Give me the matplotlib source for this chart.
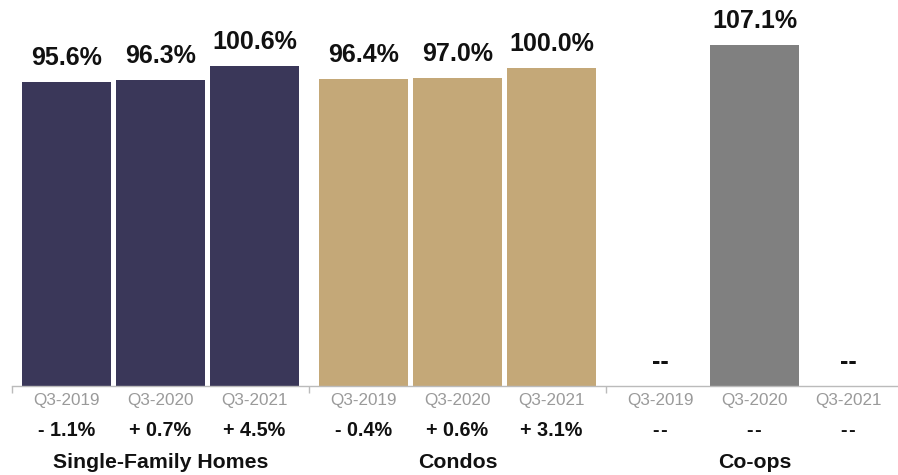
import matplotlib
matplotlib.use("Agg")
import matplotlib.pyplot as plt
from matplotlib.transforms import offset_copy

plt.rcParams['font.family'] = ['Liberation Sans', 'DejaVu Sans']

groups = ["Single-Family Homes", "Condos", "Co-ops"]
periods = ["Q3-2019", "Q3-2020", "Q3-2021"]
values = [
    [95.6, 96.3, 100.6],
    [96.4, 97.0, 100.0],
    [None, 107.1, None],
]
value_labels = [
    ["95.6%", "96.3%", "100.6%"],
    ["96.4%", "97.0%", "100.0%"],
    ["--", "107.1%", "--"],
]
changes = [
    ["- 1.1%", "+ 0.7%", "+ 4.5%"],
    ["- 0.4%", "+ 0.6%", "+ 3.1%"],
    ["-\u200a-", "-\u200a-", "-\u200a-"],
]
colors = ["#3a3759", "#c4a878", "#808080"]

W, H = 898, 475
fig = plt.figure(figsize=(W / 100, H / 100), dpi=100)
# axes spans pixel x 12..898, y 0..386
ax = fig.add_axes([12 / W, (H - 386) / H, (W - 12) / W, 386 / H])

slot = 94.0            # pixel width per bar slot
group_w = 297.0
pad = 10.0
bar_w = 89.0
px_per_unit = 3.18
ax.set_xlim(0, W - 12)
ax.set_ylim(0, 386 / px_per_unit)

for g, grp in enumerate(groups):
    start = g * group_w
    for i in range(3):
        xc = start + pad + bar_w / 2 + slot * i
        v = values[g][i]
        hv = 0 if v is None else v
        if v is not None:
            ax.bar(xc, v, width=bar_w, color=colors[g], linewidth=0)
        tr = offset_copy(ax.transData, fig=fig, x=0, y=17, units='dots')
        ax.text(xc, hv, value_labels[g][i], transform=tr, ha='center',
                va='baseline', fontsize=18, fontweight='bold', color='#111111')
        ax.annotate(periods[i], xy=(xc, 0), xycoords='data',
                    xytext=(0, -15), textcoords='offset pixels',
                    ha='center', va='center', fontsize=12.3, color='#9a9a9a')
        ax.annotate(changes[g][i], xy=(xc, 0), xycoords='data',
                    xytext=(0, -44), textcoords='offset pixels',
                    ha='center', va='center', fontsize=14.2,
                    fontweight='bold', color='#111111')
    ax.annotate(grp, xy=(start + group_w / 2, 0), xycoords='data',
                xytext=(0, -77), textcoords='offset pixels',
                ha='center', va='center', fontsize=15.3,
                fontweight='bold', color='#111111')

for s in ['top', 'right', 'left']:
    ax.spines[s].set_visible(False)
ax.spines['bottom'].set_color('#bbbbbb')
ax.spines['bottom'].set_linewidth(1.0)
ax.set_yticks([])
ax.set_xticks([0, group_w, 2 * group_w])
ax.set_xticklabels([])
ax.tick_params(axis='x', direction='out', length=5, color='#bbbbbb', width=1)

fig.savefig("out.png", dpi=100)
